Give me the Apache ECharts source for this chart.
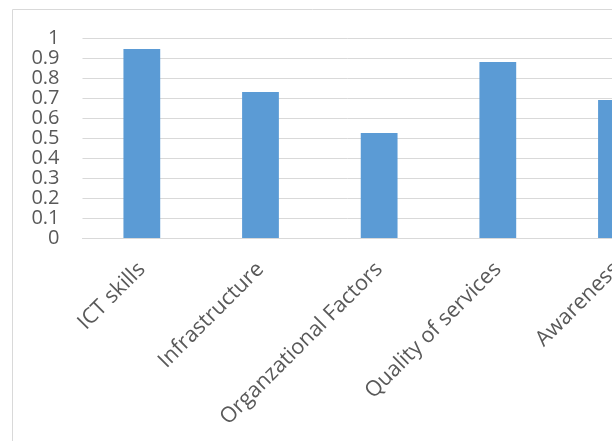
<!DOCTYPE html>
<html><head><meta charset="utf-8">
<script src="https://cdn.jsdelivr.net/npm/echarts@6/dist/echarts.min.js"></script>
<style>html,body{margin:0;padding:0;background:#fff}#c{width:612px;height:441px}</style>
</head><body><div id="c"></div>
<script>
const categories = ["ICT skills", "Infrastructure", "Organzational Factors", "Quality of services", "Awareness"];
const values = [0.945, 0.73, 0.525, 0.88, 0.69];
const yTicks = [0, 0.1, 0.2, 0.3, 0.4, 0.5, 0.6, 0.7, 0.8, 0.9, 1];

const chart = echarts.init(document.getElementById('c'), null, {renderer: 'canvas'});
chart.setOption({
  animation: false,
  graphic: [{type: 'rect', shape: {x: 12.5, y: 9.5, width: 700, height: 600}, style: {fill: 'none', stroke: '#d9d9d9', lineWidth: 1}, z: -1}],
  grid: {left: 82.5, width: 593.3, top: 38, height: 200, containLabel: false, outerBoundsMode: 'none'},
  xAxis: {
    type: 'category', data: categories,
    axisLine: {show: true, lineStyle: {color: '#d9d9d9', width: 1}},
    axisTick: {show: false},
    axisLabel: {rotate: 45, margin: 28, fontFamily: 'Open Sans', fontSize: 21.5, color: '#595959', interval: 0}
  },
  yAxis: {
    type: 'value', min: 0, max: 1, interval: 0.1,
    axisLine: {show: false}, axisTick: {show: false},
    splitLine: {lineStyle: {color: '#d9d9d9', width: 1}},
    axisLabel: {margin: 23, fontFamily: 'Open Sans', fontSize: 20, color: '#595959', lineHeight: 20,
      formatter: v => { const t = yTicks.find(x => Math.abs(x - v) < 1e-9); return t === undefined ? '' : String(t); }}
  },
  series: [{type: 'bar', data: values, barWidth: '31%', itemStyle: {color: '#5b9bd5'}}]
});
</script></body></html>
